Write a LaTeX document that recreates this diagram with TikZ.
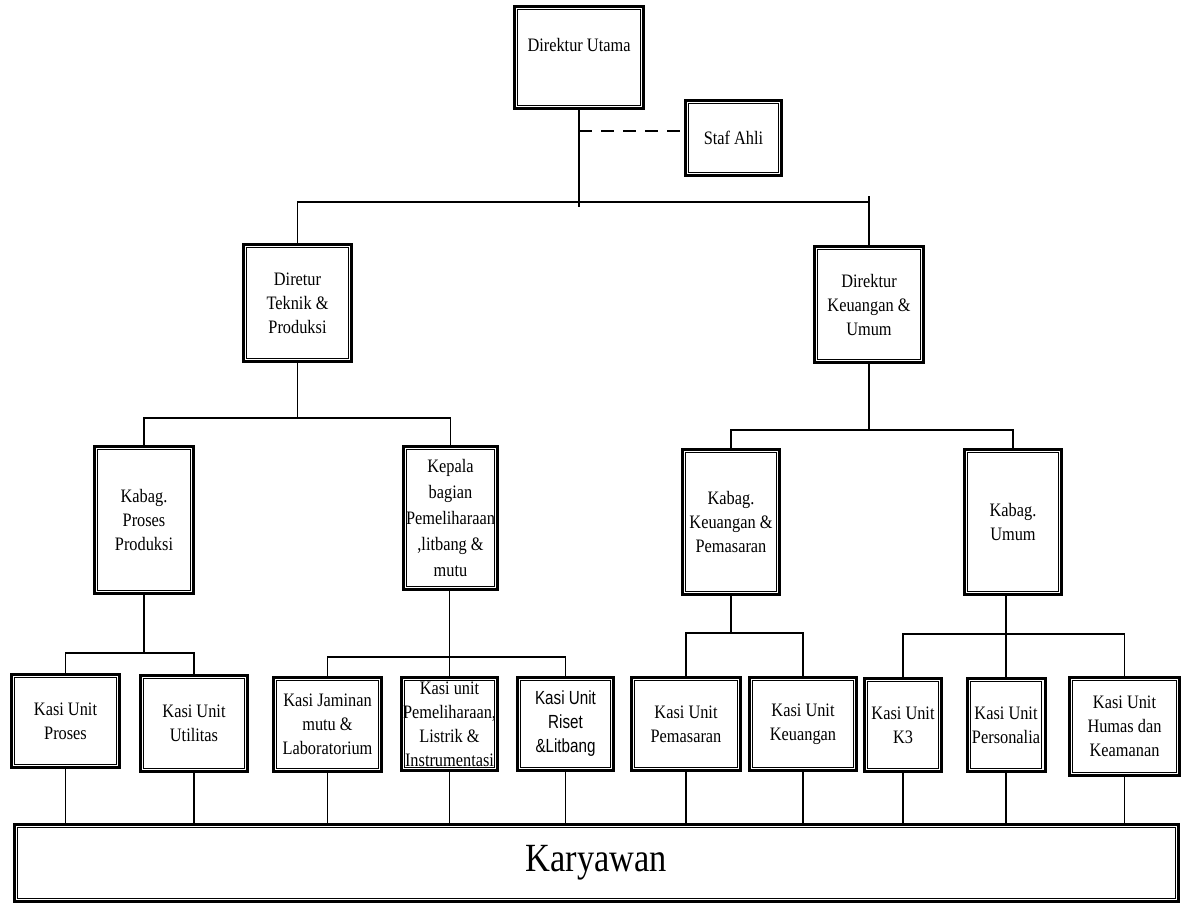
\documentclass[tikz,border=0pt]{standalone}
\usepackage{fontspec}
\setmainfont{Liberation Serif}[FakeStretch=0.86]
\newfontfamily\arialc{Liberation Sans}[FakeStretch=0.8]
\begin{document}
\begin{tikzpicture}[x=1pt,y=-1pt,
  box/.style={draw, line width=3pt, inner sep=0pt, align=center,
    font=\fontsize{19}{24}\selectfont,
    path picture={\draw[line width=1.3pt]
      ([xshift=3.2pt,yshift=3.2pt]path picture bounding box.south west) rectangle
      ([xshift=-3.2pt,yshift=-3.2pt]path picture bounding box.north east);}},
  conn/.style={line width=1.6pt},
  dashconn/.style={line width=2.4pt, dash pattern=on 13pt off 9pt}]
\useasboundingbox (0,0) rectangle (1189,905);

% top
\node[box, minimum width=129, minimum height=102,
  label={[font=\fontsize{19}{24}\selectfont, anchor=center, yshift=-40pt]north:Direktur Utama}] (du) at (579,57.5) {};
\node[box, minimum width=96, minimum height=75] (staf) at (733.5,138) {Staf Ahli};

% directors
\node[box, minimum width=108, minimum height=117] (dtp) at (297.5,303) {Diretur\\Teknik \&\\Produksi};
\node[box, minimum width=109, minimum height=116] (dku) at (869,304.5) {Direktur\\Keuangan \&\\Umum};

% kabag
\node[box, minimum width=99, minimum height=147] (kpp) at (144,520) {Kabag.\\Proses\\Produksi};
\node[box, minimum width=94, minimum height=143, font=\fontsize{19}{26}\selectfont] (kbp) at (450.5,518) {Kepala\\bagian\\Pemeliharaan\\,litbang \&\\mutu};
\node[box, minimum width=97, minimum height=145] (kkp) at (731,522) {Kabag.\\Keuangan \&\\Pemasaran};
\node[box, minimum width=97, minimum height=145] (kum) at (1013,522) {Kabag.\\Umum};

% kasi
\node[box, minimum width=108, minimum height=93] (kproses) at (65.5,721) {Kasi Unit\\Proses};
\node[box, minimum width=107, minimum height=96] (kutil) at (194,723.5) {Kasi Unit\\Utilitas};
\node[box, minimum width=108, minimum height=94] (kjam) at (327.5,724.5) {Kasi Jaminan\\mutu \&\\Laboratorium};
\node[box, minimum width=96, minimum height=93] (kpem) at (449.5,724) {Kasi unit\\Pemeliharaan,\\Listrik \&\\Instrumentasi};
\node[box, minimum width=96, minimum height=93, font=\arialc\fontsize{19}{24}\selectfont] (kriset) at (565.5,724) {Kasi Unit\\Riset\\\&Litbang};
\node[box, minimum width=109, minimum height=93] (kpemas) at (686,724) {Kasi Unit\\Pemasaran};
\node[box, minimum width=107, minimum height=93] (kkeu) at (803,724) {Kasi Unit\\Keuangan};
\node[box, minimum width=77, minimum height=93] (kk3) at (903,725) {Kasi Unit\\K3};
\node[box, minimum width=78, minimum height=93] (kpers) at (1006,725) {Kasi Unit\\Personalia};
\node[box, minimum width=110, minimum height=98] (khum) at (1124.5,726.5) {Kasi Unit\\Humas dan\\Keamanan};

% karyawan
\node[box, minimum width=1164, minimum height=77, font=\fontsize{40}{48}\selectfont] (kary) at (596.5,863) {Karyawan};

% connectors top
\coordinate (dsh) at (579,131);
\draw[conn] (du.south) -- (579,207);
\draw[dashconn] (dsh) -- (dsh -| staf.west);
\draw[conn] (dtp.north) |- (dku.north |- 0,202);
\draw[conn] (dku.north) -- (dku.north |- 0,196);

% directors to kabag
\draw[conn] (dtp.south) -- (dtp.south |- 0,418);
\draw[conn] (kpp.north) |- (kbp.north |- 0,418) -- (kbp.north);
\draw[conn] (dku.south) -- (dku.south |- 0,430);
\draw[conn] (kkp.north) |- (kum.north |- 0,430) -- (kum.north);

% kabag to kasi
\draw[conn] (kpp.south) -- (kpp.south |- 0,653);
\draw[conn] (kproses.north) |- (kutil.north |- 0,653) -- (kutil.north);
\draw[conn] (kpem.north) -- (kpem.north |- kbp.south);
\draw[conn] (kjam.north) |- (kriset.north |- 0,657) -- (kriset.north);
\draw[conn] (kkp.south) -- (kkp.south |- 0,633);
\draw[conn] (kpemas.north) |- (kkeu.north |- 0,633) -- (kkeu.north);
\draw[conn] (kpers.north) -- (kpers.north |- kum.south);
\draw[conn] (kk3.north) |- (khum.north |- 0,634) -- (khum.north);

% kasi to karyawan
\foreach \n in {kproses,kutil,kjam,kpem,kriset,kpemas,kkeu,kk3,kpers,khum}
  \draw[conn] (\n.south) -- (\n.south |- kary.north);
\end{tikzpicture}
\end{document}
